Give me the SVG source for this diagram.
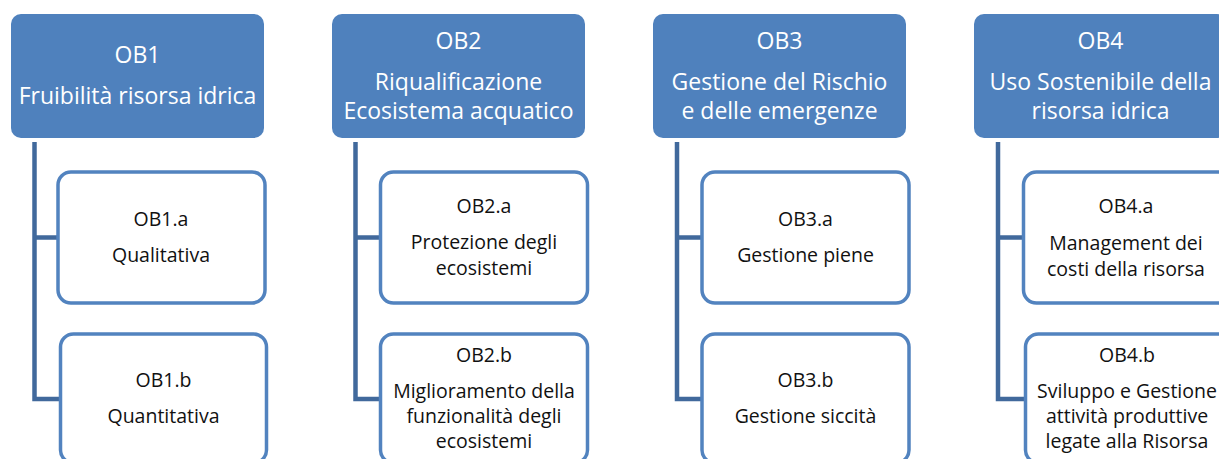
<svg xmlns="http://www.w3.org/2000/svg" width="1219" height="459" viewBox="0 0 1219 459">
<style>
.top{fill:#4F81BD;}
.child{fill:#FFFFFF;stroke:#5283BF;stroke-width:3.5;}
.conn{fill:none;stroke:#41699C;stroke-width:4.5;}
.tt{font-family:"Open Sans","Liberation Sans",sans-serif;font-size:23px;fill:#FFFFFF;text-anchor:middle;}
.ct{font-family:"Open Sans","Liberation Sans",sans-serif;font-size:19.5px;fill:#111111;text-anchor:middle;}
</style>
<rect width="1219" height="459" fill="#FFFFFF"/>
<g id="connectors">
<path class="conn" d="M34.5 142 V399 H60 M34.5 237.5 H57"/>
<path class="conn" d="M355.5 142 V399 H380 M355.5 237.5 H380"/>
<path class="conn" d="M677 142 V399 H702 M677 237.5 H702"/>
<path class="conn" d="M998 142 V399 H1025 M998 237.5 H1023"/>
</g>
<g id="ob1">
<rect class="top" x="11" y="14" width="253" height="124" rx="10"/>
<text class="tt" x="137.5" y="63">OB1</text>
<text class="tt" x="137.5" y="104">Fruibilità risorsa idrica</text>
</g>
<g id="ob1a">
<rect class="child" x="58" y="172" width="207" height="131" rx="13"/>
<text class="ct" x="161" y="226">OB1.a</text>
<text class="ct" x="161" y="262">Qualitativa</text>
</g>
<g id="ob1b">
<rect class="child" x="60.5" y="334" width="206" height="129" rx="13"/>
<text class="ct" x="163.5" y="387">OB1.b</text>
<text class="ct" x="163.5" y="423">Quantitativa</text>
</g>
<g id="ob2">
<rect class="top" x="332" y="14" width="253" height="124" rx="10"/>
<text class="tt" x="458.5" y="49">OB2</text>
<text class="tt" x="458.5" y="90">Riqualificazione</text>
<text class="tt" x="458.5" y="119">Ecosistema acquatico</text>
</g>
<g id="ob2a">
<rect class="child" x="380.5" y="172" width="207" height="131" rx="13"/>
<text class="ct" x="484" y="213">OB2.a</text>
<text class="ct" x="484" y="249">Protezione degli</text>
<text class="ct" x="484" y="275">ecosistemi</text>
</g>
<g id="ob2b">
<rect class="child" x="380.5" y="334" width="207" height="129" rx="13"/>
<text class="ct" x="484" y="362">OB2.b</text>
<text class="ct" x="484" y="398">Miglioramento della</text>
<text class="ct" x="484" y="423">funzionalità degli</text>
<text class="ct" x="484" y="448">ecosistemi</text>
</g>
<g id="ob3">
<rect class="top" x="653" y="14" width="253" height="124" rx="10"/>
<text class="tt" x="779.5" y="49">OB3</text>
<text class="tt" x="779.5" y="90">Gestione del Rischio</text>
<text class="tt" x="779.5" y="119">e delle emergenze</text>
</g>
<g id="ob3a">
<rect class="child" x="702" y="172" width="207" height="131" rx="13"/>
<text class="ct" x="805.5" y="226">OB3.a</text>
<text class="ct" x="805.5" y="262">Gestione piene</text>
</g>
<g id="ob3b">
<rect class="child" x="702" y="334" width="207" height="129" rx="13"/>
<text class="ct" x="805.5" y="387">OB3.b</text>
<text class="ct" x="805.5" y="423">Gestione siccità</text>
</g>
<g id="ob4">
<rect class="top" x="974" y="14" width="253" height="124" rx="10"/>
<text class="tt" x="1100.5" y="49">OB4</text>
<text class="tt" x="1100.5" y="90">Uso Sostenibile della</text>
<text class="tt" x="1100.5" y="119">risorsa idrica</text>
</g>
<g id="ob4a">
<rect class="child" x="1023.5" y="172" width="207" height="131" rx="13"/>
<text class="ct" x="1126" y="213">OB4.a</text>
<text class="ct" x="1126" y="250">Management dei</text>
<text class="ct" x="1126" y="276">costi della risorsa</text>
</g>
<g id="ob4b">
<rect class="child" x="1025.5" y="334" width="207" height="129" rx="13"/>
<text class="ct" x="1127" y="362">OB4.b</text>
<text class="ct" x="1127" y="398">Sviluppo e Gestione</text>
<text class="ct" x="1127" y="423">attività produttive</text>
<text class="ct" x="1127" y="448">legate alla Risorsa</text>
</g>
</svg>
